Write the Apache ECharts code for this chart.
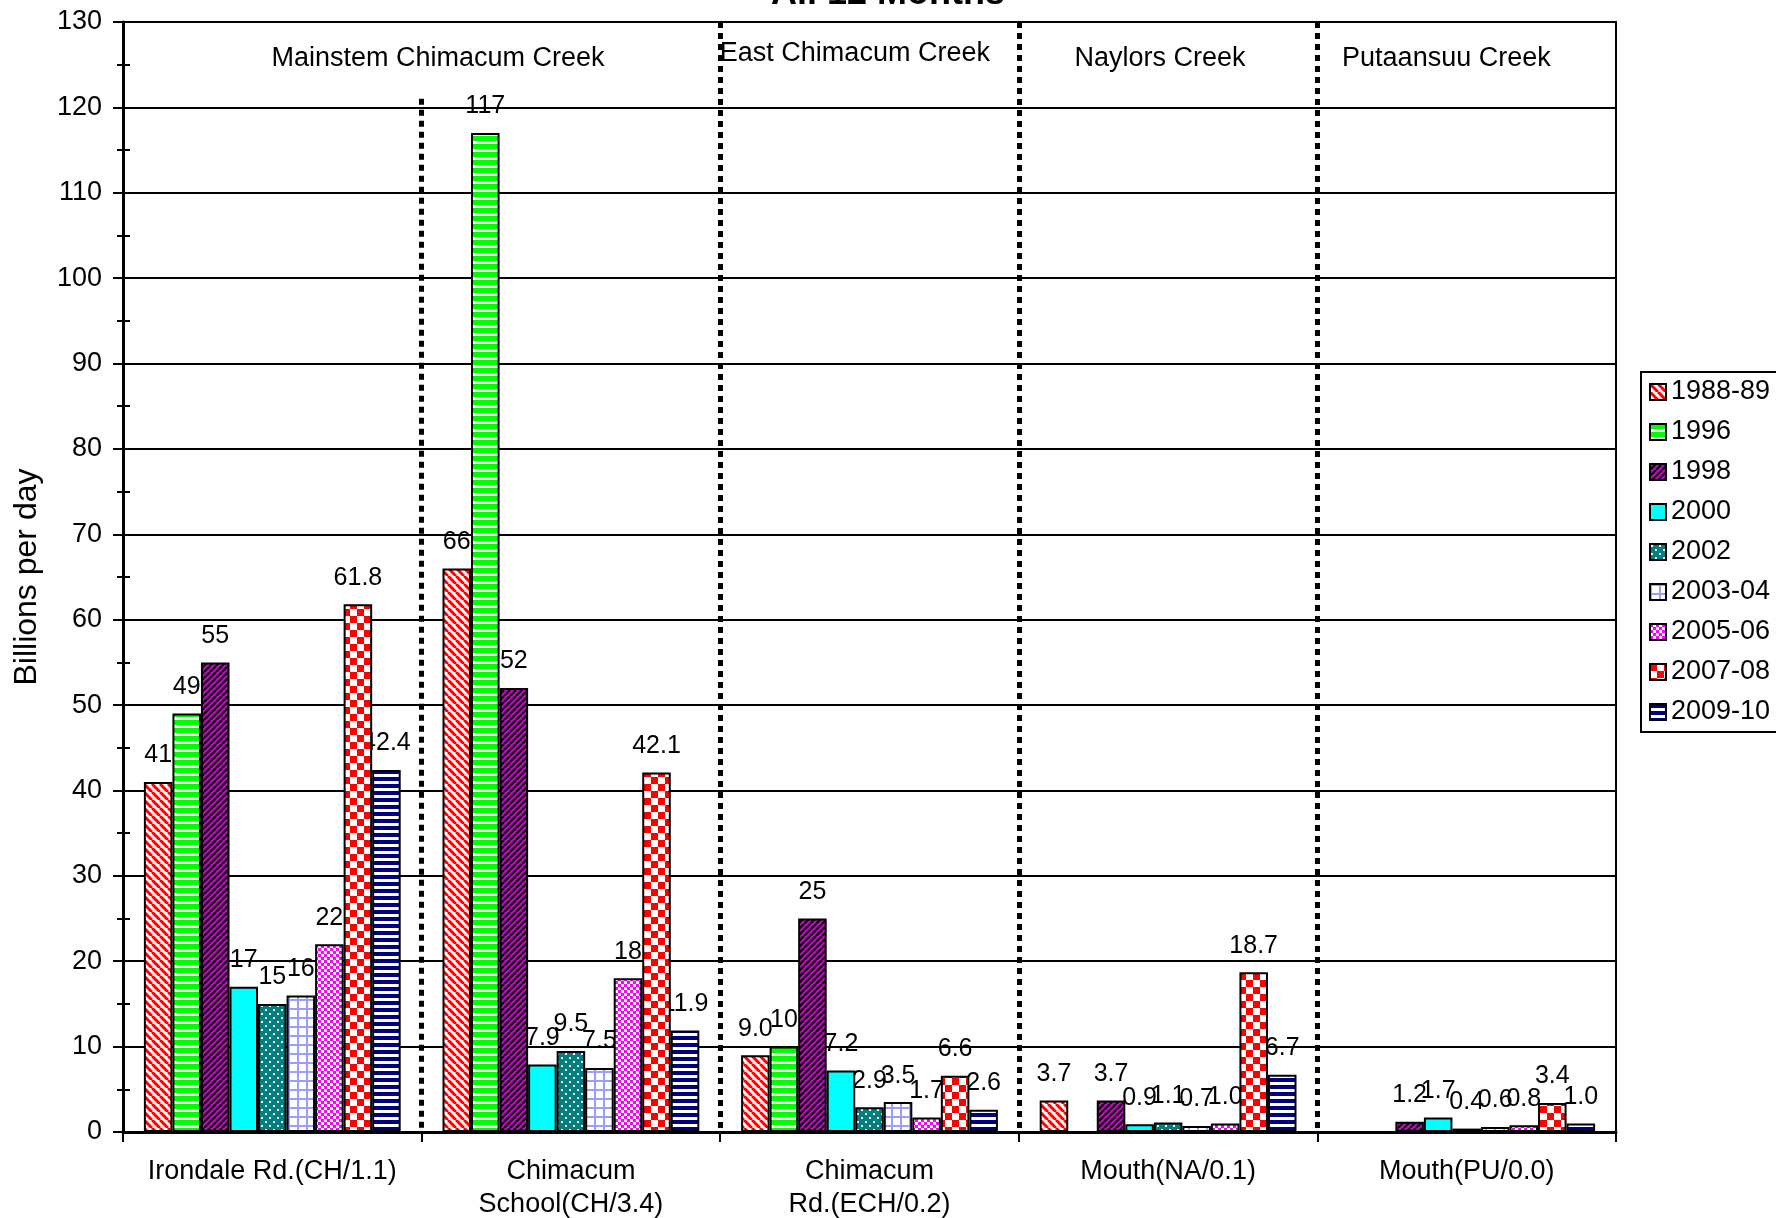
<!DOCTYPE html>
<html>
<head>
<meta charset="utf-8">
<title>All 12 Months</title>
<script src="https://cdn.jsdelivr.net/npm/echarts@6.0.0/dist/echarts.min.js"></script>
<style>
  html, body { margin: 0; padding: 0; background: #fff; }
  #chart { width: 1776px; height: 1218px; }
</style>
</head>
<body>
<div id="chart"></div>
<script>
// Sampling stations (x categories)
const categories = [
  'Irondale Rd.(CH/1.1)',
  'Chimacum\nSchool(CH/3.4)',
  'Chimacum\nRd.(ECH/0.2)',
  'Mouth(NA/0.1)',
  'Mouth(PU/0.0)'
];

// Sampling seasons (one bar series each)
const seasons = ['1988-89', '1996', '1998', '2000', '2002', '2003-04', '2005-06', '2007-08', '2009-10'];

// Billions per day, per station, for each season (null = not sampled)
const v1988_89 = [41, 66, 9.0, 3.7, null];
const v1996    = [49, 117, 10, null, null];
const v1998    = [55, 52, 25, 3.7, 1.2];
const v2000    = [17, 7.9, 7.2, 0.9, 1.7];
const v2002    = [15, 9.5, 2.9, 1.1, 0.4];
const v2003_04 = [16, 7.5, 3.5, 0.7, 0.6];
const v2005_06 = [22, 18, 1.7, 1.0, 0.8];
const v2007_08 = [61.8, 42.1, 6.6, 18.7, 3.4];
const v2009_10 = [42.4, 11.9, 2.6, 6.7, 1.0];

// Seasons whose labels always carry one decimal
const oneDecimalSeasons = ['2007-08', '2009-10'];

// Creek groupings written across the top of the plot
const creekNames = ['Mainstem Chimacum Creek', 'East Chimacum Creek', 'Naylors Creek', 'Putaansuu Creek'];

// Value axis range
const yMin = 0, yMax = 130, yStep = 10;

const seriesValues = [v1988_89, v1996, v1998, v2000, v2002, v2003_04, v2005_06, v2007_08, v2009_10];

// ---- hatch / pattern fills ----
function pattern(w, h, draw) {
  const c = document.createElement('canvas');
  c.width = w; c.height = h;
  const g = c.getContext('2d');
  draw(g, w, h);
  return { image: c, repeat: 'repeat' };
}
function diagonal(bg, fg, size, lw, dir) {
  return pattern(size, size, (g, w, h) => {
    g.fillStyle = bg; g.fillRect(0, 0, w, h);
    g.strokeStyle = fg; g.lineWidth = lw;
    for (let k = -1; k <= 1; k++) {
      g.beginPath();
      if (dir === 'down') { g.moveTo(k * w, 0); g.lineTo(k * w + w, h); }
      else { g.moveTo(k * w, h); g.lineTo(k * w + w, 0); }
      g.stroke();
    }
  });
}
function hStripes(bg, fg, period, band) {
  return pattern(8, period, (g, w, h) => {
    g.fillStyle = bg; g.fillRect(0, 0, w, h);
    g.fillStyle = fg; g.fillRect(0, 0, w, band);
  });
}
function checker(a, b, sq) {
  return pattern(sq * 2, sq * 2, (g, w, h) => {
    g.fillStyle = b; g.fillRect(0, 0, w, h);
    g.fillStyle = a; g.fillRect(0, 0, sq, sq); g.fillRect(sq, sq, sq, sq);
  });
}
const fills = [
  diagonal('#ffffff', '#ff0000', 8, 3, 'down'),
  hStripes('#ffffff', '#00ff00', 8, 5),
  diagonal('#cc00cc', '#000000', 6, 2, 'up'),
  '#00ffff',
  pattern(8, 8, (g, w, h) => {
    g.fillStyle = '#008080'; g.fillRect(0, 0, w, h);
    g.fillStyle = '#ffffff'; g.fillRect(1, 1, 2, 2); g.fillRect(5, 5, 2, 2);
  }),
  pattern(9, 9, (g, w, h) => {
    g.fillStyle = '#ffffff'; g.fillRect(0, 0, w, h);
    g.fillStyle = '#9c9cff'; g.fillRect(0, 0, w, 2); g.fillRect(0, 0, 2, h);
  }),
  checker('#ff00ff', '#ffffff', 3),
  checker('#ff0000', '#ffffff', 7),
  hStripes('#ffffff', '#000080', 7, 4)
];

const FONT = "'Liberation Sans', Arial, Helvetica, sans-serif";

function labelText(p) {
  const v = p.value;
  return (oneDecimalSeasons.indexOf(p.seriesName) >= 0 || v < 10) ? v.toFixed(1) : v.toFixed(0);
}

const barGeom = { barGap: '0%', barCategoryGap: '14%' };

// Visible bars
const barSeries = seasons.map((s, i) => Object.assign({
  name: s,
  type: 'bar',
  xAxisIndex: 0,
  yAxisIndex: 0,
  data: seriesValues[i],
  z: 3,
  itemStyle: { color: fills[i], borderColor: '#000', borderWidth: 2 },
  label: { show: false },
  emphasis: { disabled: true }
}, barGeom));

// Value labels sit underneath the bars, so neighbouring bars can overlap them
const labelSeries = seasons.map((s, i) => Object.assign({
  name: s,
  type: 'bar',
  xAxisIndex: 1,
  yAxisIndex: 0,
  data: seriesValues[i],
  z: 2,
  silent: true,
  itemStyle: { color: 'rgba(0,0,0,0)', borderWidth: 0 },
  label: {
    show: true, position: 'top', distance: 14,
    fontSize: 25, fontFamily: FONT, color: '#000',
    formatter: labelText
  },
  emphasis: { disabled: true }
}, barGeom));

// Creek headings and dotted dividers drawn on a hidden 0..5 value axis
const creekPos = [[1.055, 125.7], [2.451, 126.3], [3.473, 125.7], [4.432, 125.7]];
const dividers = [[1, 121], [2, yMax], [3, yMax], [4, yMax]];
const creekSeries = {
  type: 'scatter',
  xAxisIndex: 2,
  yAxisIndex: 0,
  symbolSize: 1,
  silent: true,
  z: 4,
  itemStyle: { color: 'rgba(0,0,0,0)', opacity: 1 },
  data: creekNames.map((n, i) => ({ name: n, value: creekPos[i] })),
  label: {
    show: true, position: 'inside', formatter: p => p.name,
    fontSize: 27, fontFamily: FONT, color: '#000', opacity: 1,
    textBorderWidth: 0
  },
  markLine: {
    silent: true,
    symbol: 'none',
    label: { show: false },
    lineStyle: { color: '#000', width: 5, type: [6, 5], opacity: 1 },
    data: dividers.map(d => [{ coord: [d[0], d[1]] }, { coord: [d[0], yMin] }])
  },
  emphasis: { disabled: true }
};

const chart = echarts.init(document.getElementById('chart'), null, { renderer: 'canvas' });
chart.setOption({
  animation: false,
  backgroundColor: '#fff',
  textStyle: { fontFamily: FONT },
  title: {
    text: 'All 12 Months',
    left: 'center',
    top: -24,
    padding: 0,
    textStyle: { fontSize: 36, fontWeight: 'bold', color: '#000', fontFamily: FONT }
  },
  legend: {
    data: seasons,
    orient: 'vertical',
    left: 1641,
    top: 372,
    padding: [6, 8, 6, 8],
    itemWidth: 16,
    itemHeight: 16,
    itemGap: 12,
    icon: 'rect',
    borderColor: '#000',
    borderWidth: 2,
    backgroundColor: '#fff',
    selectedMode: false,
    textStyle: { fontSize: 27, lineHeight: 28, color: '#000', fontFamily: FONT }
  },
  grid: {
    left: 123, right: 160, top: 22, bottom: 86,
    containLabel: false,
    outerBoundsMode: 'none',
    show: true,
    borderColor: '#000',
    borderWidth: 2,
    backgroundColor: 'transparent'
  },
  xAxis: [
    {
      type: 'category',
      data: categories,
      axisLine: { show: true, lineStyle: { color: '#000', width: 3 } },
      axisTick: { show: true, length: 10, interval: 0, lineStyle: { color: '#000', width: 2 } },
      axisLabel: { interval: 0, margin: 23, fontSize: 27, lineHeight: 33, color: '#000', fontFamily: FONT },
      splitLine: { show: false }
    },
    { type: 'category', data: categories, show: false },
    { type: 'value', min: 0, max: 5, show: false }
  ],
  yAxis: [
    {
      type: 'value',
      min: yMin, max: yMax, interval: yStep,
      name: 'Billions per day',
      nameLocation: 'middle',
      nameGap: 80,
      nameTextStyle: { fontSize: 32, color: '#000', fontFamily: FONT },
      axisLine: { show: true, lineStyle: { color: '#000', width: 3 } },
      axisTick: { show: true, length: 10, lineStyle: { color: '#000', width: 2 } },
      minorTick: { show: true, splitNumber: 2, length: 6, lineStyle: { color: '#000', width: 2 } },
      axisLabel: { margin: 21, fontSize: 27, color: '#000', fontFamily: FONT },
      splitLine: { show: true, lineStyle: { color: '#000', width: 2 } }
    },
    {
      type: 'value',
      min: yMin, max: yMax, interval: yStep / 2,
      position: 'left',
      axisLine: { show: false },
      axisLabel: { show: false },
      splitLine: { show: false },
      axisTick: { show: true, inside: true, length: 7, lineStyle: { color: '#000', width: 2 } }
    }
  ],
  series: barSeries.concat(labelSeries, [creekSeries])
});
</script>
</body>
</html>
